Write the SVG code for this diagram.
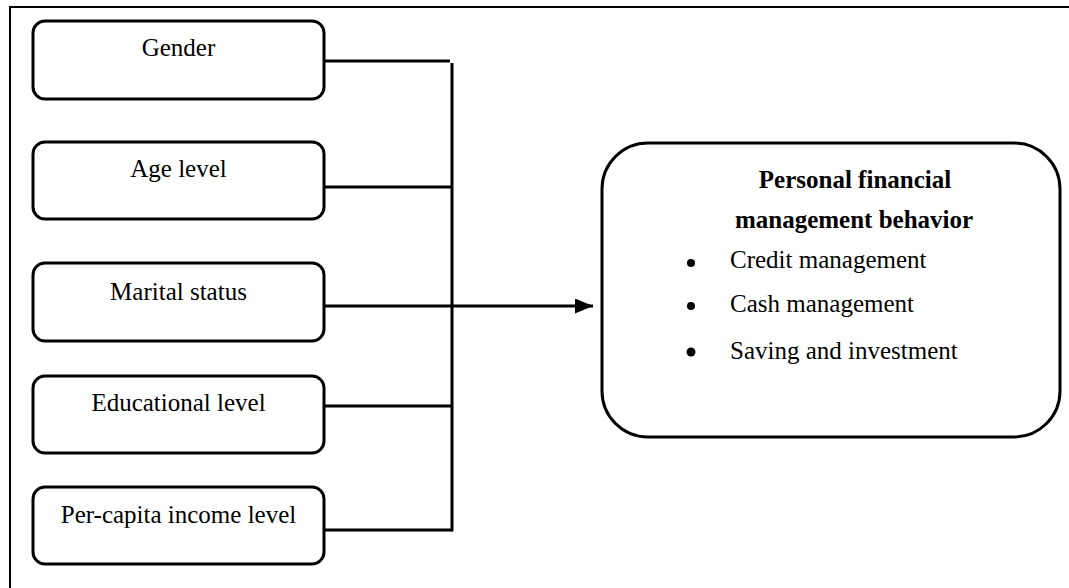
<svg xmlns="http://www.w3.org/2000/svg" width="1069" height="588" viewBox="0 0 1069 588">
  <defs>
    <style>
      .box { fill: #ffffff; stroke: #000000; stroke-width: 3; }
      .frame { fill: none; stroke: #000000; stroke-width: 2; }
      .lbl { font-family: "Liberation Serif", "Times New Roman", serif; font-size: 25px; fill: #000000; }
      .ttl { font-family: "Liberation Serif", "Times New Roman", serif; font-size: 25px; font-weight: bold; fill: #000000; }
      .conn { fill: none; stroke: #000000; stroke-width: 3; }
    </style>
    <marker id="arrow" markerWidth="6" markerHeight="5" refX="6" refY="2.5" orient="auto" markerUnits="strokeWidth">
      <path d="M0,0 L6,2.5 L0,5 Z" fill="#000000"/>
    </marker>
  </defs>
  <rect x="0" y="0" width="1069" height="588" fill="#ffffff"/>
  <rect class="frame" x="10" y="7" width="1090" height="620"/>

  <g id="gender">
    <rect class="box" x="33" y="21" width="291" height="78" rx="12" ry="12"/>
    <text class="lbl" x="178.5" y="56" text-anchor="middle">Gender</text>
  </g>
  <g id="age-level">
    <rect class="box" x="33" y="142" width="291" height="77" rx="12" ry="12"/>
    <text class="lbl" x="178.5" y="177" text-anchor="middle">Age level</text>
  </g>
  <g id="marital-status">
    <rect class="box" x="33" y="263" width="291" height="78" rx="12" ry="12"/>
    <text class="lbl" x="178.5" y="300" text-anchor="middle">Marital status</text>
  </g>
  <g id="educational-level">
    <rect class="box" x="33" y="376" width="291" height="77" rx="12" ry="12"/>
    <text class="lbl" x="178.5" y="411" text-anchor="middle">Educational level</text>
  </g>
  <g id="per-capita-income-level">
    <rect class="box" x="33" y="487" width="291" height="77" rx="12" ry="12"/>
    <text class="lbl" x="178.5" y="523" text-anchor="middle">Per-capita income level</text>
  </g>

  <g id="connectors">
    <path class="conn" d="M324,61 H450"/>
    <path class="conn" d="M324,187 H452"/>
    <path class="conn" d="M324,306 H452"/>
    <path class="conn" d="M324,406 H452"/>
    <path class="conn" d="M324,530 H452"/>
    <path class="conn" d="M452,63 V531.5"/>
    <path class="conn" d="M452,306 H593" marker-end="url(#arrow)"/>
  </g>

  <g id="personal-financial-management-behavior">
    <rect class="box" x="602" y="143" width="458" height="294" rx="46" ry="46"/>
    <text class="ttl" x="855" y="188" text-anchor="middle">Personal financial</text>
    <text class="ttl" x="854" y="228" text-anchor="middle">management behavior</text>
    <circle cx="691" cy="263" r="4"/>
    <text class="lbl" x="730" y="268">Credit management</text>
    <circle cx="691" cy="306" r="4"/>
    <text class="lbl" x="730" y="312">Cash management</text>
    <circle cx="691" cy="352" r="4.5"/>
    <text class="lbl" x="730" y="359">Saving and investment</text>
  </g>
</svg>
